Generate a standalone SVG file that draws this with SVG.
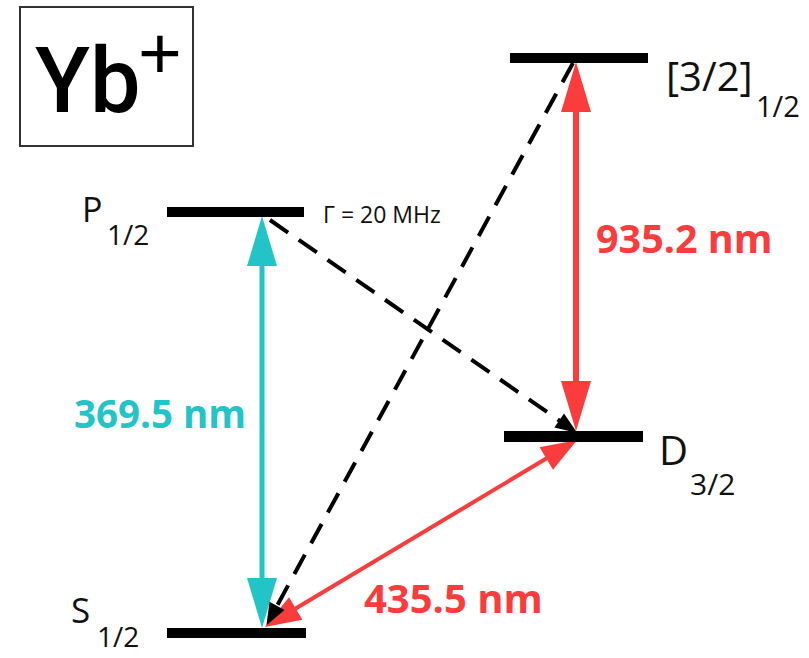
<svg xmlns="http://www.w3.org/2000/svg" width="809" height="658" viewBox="0 0 809 658">
<style>
.lvl{fill:#000}
.lab{font-family:"Open Sans","Liberation Sans",sans-serif;fill:#111}
.big{font-family:"Open Sans","Liberation Sans",sans-serif;font-weight:bold}
.cy{stroke:#22C4C7;fill:none}
.rd{stroke:#FA3C3C;fill:none}
.dash{stroke:#000;fill:none;stroke-width:4;stroke-dasharray:22 13}
</style>
<defs>
<marker id="hCyan" markerUnits="userSpaceOnUse" markerWidth="50" markerHeight="30" refX="2" refY="15" orient="auto-start-reverse" overflow="visible">
<path d="M0,0 L50,15 L0,30 Z" fill="#22C4C7"/>
</marker>
<marker id="hRedV" markerUnits="userSpaceOnUse" markerWidth="50" markerHeight="30" refX="2" refY="15" orient="auto-start-reverse" overflow="visible">
<path d="M0,0 L50,15 L0,30 Z" fill="#FA3C3C"/>
</marker>
<marker id="hRedD" markerUnits="userSpaceOnUse" markerWidth="36" markerHeight="26" refX="2" refY="13" orient="auto-start-reverse" overflow="visible">
<path d="M0,0 L36,13 L0,26 Z" fill="#FA3C3C"/>
</marker>
<marker id="hBlk" markerUnits="userSpaceOnUse" markerWidth="22" markerHeight="17" refX="1" refY="8.5" orient="auto" overflow="visible">
<path d="M0,0 L22,8.5 L0,17 Z" fill="#000" stroke="none"/>
</marker>
</defs>

<g id="title">
<rect x="20" y="7" width="173" height="139" fill="#fff" stroke="#333" stroke-width="2"/>
<text x="35" y="112" font-family="Roboto,'Liberation Sans',Arial,sans-serif" font-weight="500" font-size="90" fill="#000">Yb</text>
<text x="138" y="79" font-family="'Liberation Sans',Arial,sans-serif" font-size="75" fill="#000">+</text>
</g>

<g id="connectors">
<line class="cy" x1="262" y1="264" x2="262" y2="580" stroke-width="5" marker-start="url(#hCyan)" marker-end="url(#hCyan)"/>
<line class="rd" x1="576" y1="110" x2="576" y2="383" stroke-width="6" marker-start="url(#hRedV)" marker-end="url(#hRedV)"/>
<line class="rd" x1="294" y1="609.5" x2="548" y2="457.5" stroke-width="4" marker-start="url(#hRedD)" marker-end="url(#hRedD)"/>
<line class="dash" x1="270" y1="220" x2="560" y2="421" marker-end="url(#hBlk)"/>
<line class="dash" x1="573" y1="63" x2="276.5" y2="606.7" marker-end="url(#hBlk)"/>
</g>

<g id="level-P">
<rect class="lvl" x="167" y="207" width="137" height="10"/>
<text class="lab" x="82" y="222" font-size="34">P</text>
<text class="lab" x="107" y="245" font-size="28">1/2</text>
<text class="lab" x="323" y="223" font-size="23">Γ = 20 MHz</text>
</g>

<g id="level-32">
<rect class="lvl" x="510" y="53" width="138" height="10"/>
<text class="lab" x="666" y="91" font-size="40">[3/2]</text>
<text class="lab" x="756" y="117" font-size="29">1/2</text>
</g>

<g id="level-D">
<rect class="lvl" x="504" y="431" width="139" height="11"/>
<text class="lab" x="659" y="465" font-size="40">D</text>
<text class="lab" x="690" y="495" font-size="30">3/2</text>
</g>

<g id="level-S">
<rect class="lvl" x="167" y="628" width="139" height="10"/>
<text class="lab" x="71" y="623" font-size="35">S</text>
<text class="lab" x="97" y="647" font-size="28">1/2</text>
</g>

<g id="labels">
<text class="big" x="74" y="428" font-size="38.5" fill="#22C4C7">369.5 nm</text>
<text class="big" x="596" y="253" font-size="39.5" fill="#FA3C3C">935.2 nm</text>
<text class="big" x="364" y="613" font-size="40" fill="#FA3C3C">435.5 nm</text>
</g>
</svg>
